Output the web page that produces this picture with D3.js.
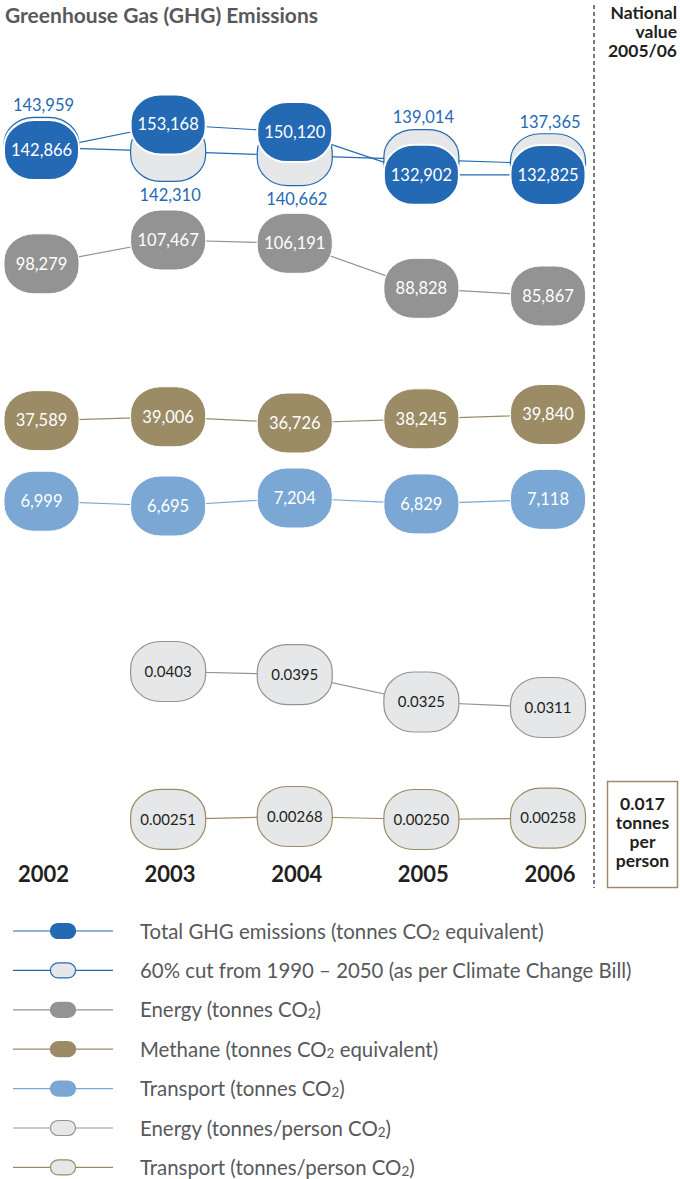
<!DOCTYPE html>
<html>
<head>
<meta charset="utf-8">
<script src="https://cdn.jsdelivr.net/npm/d3@7"></script>
<style>
    body { margin: 0; background: #fff; }
    svg { display: block; font-family: Lato, "Open Sans", sans-serif; }
</style>
</head>
<body>
<div id="chartContainer"></div>
<script>
// values
var years = ["2002", "2003", "2004", "2005", "2006"];
var totalGHG = [142866, 153168, 150120, 132902, 132825];
var cut60 = [143959, 142310, 140662, 139014, 137365];
var energy = [98279, 107467, 106191, 88828, 85867];
var methane = [37589, 39006, 36726, 38245, 39840];
var transport = [6999, 6695, 7204, 6829, 7118];
var energyPerPerson = [null, 0.0403, 0.0395, 0.0325, 0.0311];
var transportPerPerson = [null, 0.00251, 0.00268, 0.00250, 0.00258];
var nationalValue = ["0.017", "tonnes", "per", "person"];
var nationalHeader = ["National", "value", "2005/06"];
var legendLabels = [
    ["Total GHG emissions (tonnes CO", "2", " equivalent)"],
    ["60% cut from 1990 \u2013 2050 (as per Climate Change Bill)"],
    ["Energy (tonnes CO", "2", ")"],
    ["Methane (tonnes CO", "2", " equivalent)"],
    ["Transport (tonnes CO", "2", ")"],
    ["Energy (tonnes/person CO", "2", ")"],
    ["Transport (tonnes/person CO", "2", ")"]
];

var blue = "#2469b3", lightBlue = "#7aa7d3", grey = "#939393",
    khaki = "#9b8c66", pale = "#e6e7e8", textGrey = "#58595b", dark = "#231f20";

const w = 680, h = 1179;
const bw = 75, bh = 60;

const svg = d3.select("#chartContainer")
    .append("svg")
    .attr("width", w)
    .attr("height", h);

const xScale = d3.scalePoint()
    .domain(years)
    .range([41.5, 548]);

// one small vertical scale per row
function rowScale(values, yLow, yHigh){
    var v = values.filter(d => d != null);
    return d3.scaleLinear()
        .domain([d3.min(v), d3.max(v)])
        .range([yLow, yHigh]);
}

const yTotal = rowScale(totalGHG.concat(cut60), 175, 124.5);
const yEnergy = rowScale(energy, 296, 240);
const yMethane = rowScale(methane, 423, 414.5);
const yTransport = rowScale(transport, 506, 498);
const yEnergyPP = rowScale(energyPerPerson, 707.5, 671.5);
const yTransportPP = d3.scaleLinear().domain([0.0025, 0.00268]).range([819.5, 816.5]);

function toPoints(values){
    var pts = [];
    values.forEach(function(v, i){
        if(v != null) pts.push({year: years[i], value: v});
    });
    return pts;
}

function drawLine(values, yScale, color){
    svg.append("path")
        .datum(toPoints(values))
        .attr("fill", "none")
        .attr("stroke", color)
        .attr("stroke-width", 1.2)
        .attr("d", d3.line().x(d => xScale(d.year)).y(d => yScale(d.value)));
}

function drawBubbles(values, yScale, fill, stroke, strokeW, textColor, fmt, fontSize, showText){
    var g = svg.append("g")
        .selectAll("g")
        .data(toPoints(values))
        .join("g")
        .attr("transform", d => `translate(${xScale(d.year)},${yScale(d.value)})`);

    g.append("rect")
        .attr("x", -bw/2)
        .attr("y", -bh/2)
        .attr("width", bw)
        .attr("height", bh)
        .attr("rx", 30)
        .attr("ry", 27)
        .attr("fill", fill)
        .attr("stroke", stroke)
        .attr("stroke-width", strokeW);

    if(showText){
        g.append("text")
            .attr("text-anchor", "middle")
            .attr("dy", "0.35em")
            .attr("font-size", fontSize)
            .attr("fill", textColor)
            .text(d => d3.format(fmt)(d.value));
    }
}

// lines go behind the bubbles
drawLine(cut60, yTotal, blue);
drawLine(totalGHG, yTotal, blue);
drawLine(energy, yEnergy, grey);
drawLine(methane, yMethane, khaki);
drawLine(transport, yTransport, lightBlue);
drawLine(energyPerPerson, yEnergyPP, grey);
drawLine(transportPerPerson, yTransportPP, khaki);

drawBubbles(cut60, yTotal, pale, blue, 1.2, blue, ",", 16.5, false);
drawBubbles(totalGHG, yTotal, blue, "#fff", 2, "#fff", ",", 16.5, true);
drawBubbles(energy, yEnergy, grey, "#fff", 1, "#fff", ",", 16.5, true);
drawBubbles(methane, yMethane, khaki, "#fff", 1, "#fff", ",", 16.5, true);
drawBubbles(transport, yTransport, lightBlue, "#fff", 1, "#fff", ",", 16.5, true);
drawBubbles(energyPerPerson, yEnergyPP, pale, grey, 1.2, dark, ".4f", 15, true);
drawBubbles(transportPerPerson, yTransportPP, pale, khaki, 1.2, dark, ".5f", 15, true);

// 60% cut labels: above the bubble when it sits above the total, below otherwise
svg.append("g")
    .selectAll("text")
    .data(toPoints(cut60))
    .join("text")
    .attr("x", d => xScale(d.year) + 2)
    .attr("y", function(d, i){
        var above = d.value > totalGHG[i];
        return yTotal(d.value) + (above ? -42 : 44);
    })
    .attr("dy", "0.35em")
    .attr("text-anchor", "middle")
    .attr("font-size", 16.5)
    .attr("fill", blue)
    .text(d => d3.format(",")(d.value));

// title
svg.append("text")
    .attr("x", 5)
    .attr("y", 22.5)
    .attr("font-size", 21)
    .attr("font-weight", "bold")
    .attr("fill", textGrey)
    .text("Greenhouse Gas (GHG) Emissions");

// year labels
svg.append("g")
    .selectAll("text")
    .data(years)
    .join("text")
    .attr("x", d => xScale(d) + 2)
    .attr("y", 882)
    .attr("text-anchor", "middle")
    .attr("font-size", 22)
    .attr("font-weight", "bold")
    .attr("fill", dark)
    .text(d => d);

// national value column
svg.append("line")
    .attr("x1", 594).attr("x2", 594)
    .attr("y1", 5).attr("y2", 888)
    .attr("stroke", dark)
    .attr("stroke-width", 1.2)
    .attr("stroke-dasharray", "4,3");

svg.append("g")
    .selectAll("text")
    .data(nationalHeader)
    .join("text")
    .attr("x", 677)
    .attr("y", (d, i) => 19 + i*19)
    .attr("text-anchor", "end")
    .attr("font-size", 17.5)
    .attr("font-weight", "bold")
    .attr("fill", dark)
    .text(d => d);

svg.append("rect")
    .attr("x", 607.5).attr("y", 781.5)
    .attr("width", 70).attr("height", 106)
    .attr("fill", "none")
    .attr("stroke", khaki)
    .attr("stroke-width", 1.5);

svg.append("g")
    .selectAll("text")
    .data(nationalValue)
    .join("text")
    .attr("x", 642.5)
    .attr("y", (d, i) => 810 + i*19)
    .attr("text-anchor", "middle")
    .attr("font-size", 17.5)
    .attr("font-weight", "bold")
    .attr("fill", dark)
    .text(d => d);

// legend
var legendStyles = [
    {line: blue, fill: blue, stroke: blue},
    {line: blue, fill: pale, stroke: blue},
    {line: grey, fill: grey, stroke: grey},
    {line: khaki, fill: khaki, stroke: khaki},
    {line: lightBlue, fill: lightBlue, stroke: lightBlue},
    {line: grey, fill: pale, stroke: grey},
    {line: khaki, fill: pale, stroke: khaki}
];

const legend = svg.append("g")
    .selectAll("g")
    .data(legendLabels)
    .join("g")
    .attr("transform", (d, i) => `translate(0,${931 + i*39.4})`);

legend.append("line")
    .attr("x1", 13).attr("x2", 113)
    .attr("stroke", (d, i) => legendStyles[i].line)
    .attr("stroke-width", 1.2);

legend.append("rect")
    .attr("x", 63 - 12.5).attr("y", -7.5)
    .attr("width", 25).attr("height", 15)
    .attr("rx", 8).attr("ry", 7)
    .attr("fill", (d, i) => legendStyles[i].fill)
    .attr("stroke", (d, i) => legendStyles[i].stroke)
    .attr("stroke-width", 1.2);

const legendText = legend.append("text")
    .attr("x", 140)
    .attr("y", 7.5)
    .attr("font-size", 20.4)
    .attr("fill", textGrey);

legendText.each(function(parts){
    var t = d3.select(this);
    parts.forEach(function(p, j){
        var span = t.append("tspan").text(p);
        if(j == 1) span.attr("font-size", 13.5).attr("dy", 1);
        if(j == 2) span.attr("dy", -1);
    });
});
</script>
</body>
</html>
